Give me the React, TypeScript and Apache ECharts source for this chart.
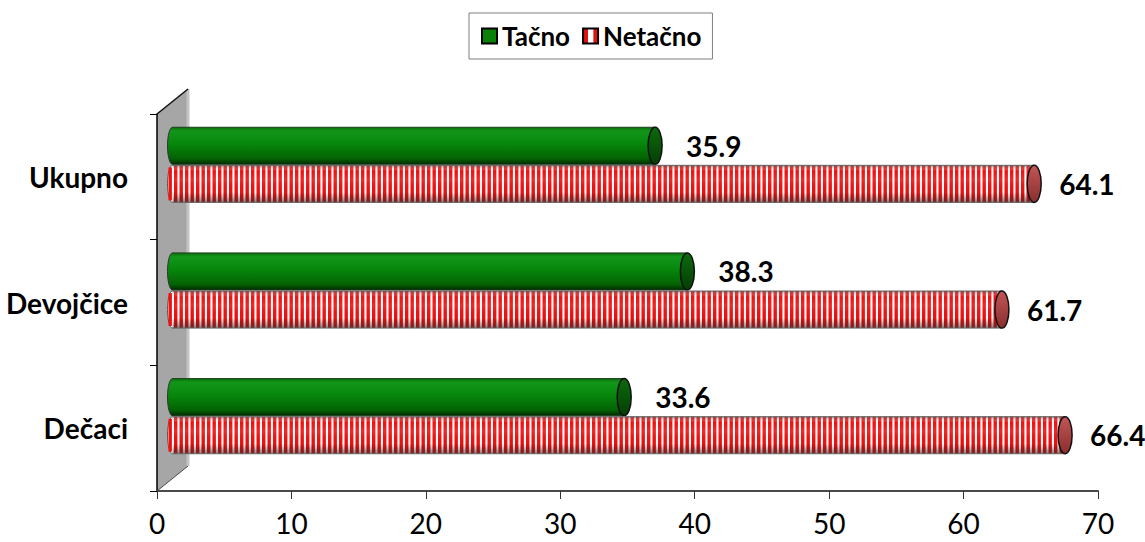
import React, { useEffect, useRef } from "react";
import * as echarts from "echarts";

// Categories run bottom-up on the category axis
const categories = ["Dečaci", "Devojčice", "Ukupno"];
const tacnoValues = [33.6, 38.3, 35.9];
const netacnoValues = [66.4, 61.7, 64.1];
const seriesNames = ["Tačno", "Netačno"];
const xMin = 0;
const xMax = 70;
const xStep = 10;

const W = 1145;
const H = 542;
const GRID = { left: 157, right: 47, top: 114, bottom: 51 };
// depth of the 3-D side wall; bars sit halfway into it
const DEPTH_X = 31;
const DEPTH_Y = 25;
const BAR_DX = 15.5;
const BAR_DY = -12;
const FONT = "Lato, 'Open Sans', sans-serif";

const greenBody = () =>
  new echarts.graphic.LinearGradient(0, 0, 0, 1, [
    { offset: 0, color: "#0c6e0c" },
    { offset: 0.1, color: "#12961a" },
    { offset: 0.45, color: "#06870b" },
    { offset: 0.85, color: "#046204" },
    { offset: 1, color: "#012a01" },
  ]);

const greenCap = () =>
  new echarts.graphic.LinearGradient(0, 0, 0, 1, [
    { offset: 0, color: "#0d6a0d" },
    { offset: 1, color: "#043e04" },
  ]);

const redCap = () =>
  new echarts.graphic.LinearGradient(0, 0, 0, 1, [
    { offset: 0, color: "#c25656" },
    { offset: 1, color: "#8a2e2e" },
  ]);

const shade = () =>
  new echarts.graphic.LinearGradient(0, 0, 0, 1, [
    { offset: 0, color: "rgba(70,70,70,0.55)" },
    { offset: 0.16, color: "rgba(255,255,255,0)" },
    { offset: 0.4, color: "rgba(255,255,255,0.1)" },
    { offset: 0.72, color: "rgba(0,0,0,0)" },
    { offset: 1, color: "rgba(50,50,50,0.6)" },
  ]);

function makeRenderer(seriesIndex: number) {
  return (params: any, api: any) => {
    const cat = api.value(0);
    const val = api.value(1);
    const band = api.size([0, 1])[1];
    const h = band * 0.295;
    const hh = h / 2;
    const start = api.coord([xMin, cat]);
    const end = api.coord([val, cat]);
    const x0 = start[0] + BAR_DX;
    const x1 = end[0] + BAR_DX;
    const cy = start[1] + BAR_DY + (seriesIndex === 0 ? -hh - 0.5 : hh + 0.5);
    const top = cy - hh;
    const rxS = 5;
    const rxE = 7;
    const children: any[] = [];

    if (seriesIndex === 0) {
      children.push({
        type: "ellipse",
        shape: { cx: x0, cy, rx: rxS, ry: hh },
        style: { fill: greenBody(), stroke: "#333", lineWidth: 1 },
      });
      children.push({
        type: "rect",
        shape: { x: x0, y: top, width: x1 - x0, height: h },
        style: { fill: greenBody() },
      });
    } else {
      children.push({
        type: "ellipse",
        shape: { cx: x0, cy, rx: rxS, ry: hh },
        style: { fill: "#ffffff", stroke: "#555", lineWidth: 1 },
      });
      children.push({
        type: "rect",
        shape: { x: x0, y: top, width: x1 - x0, height: h },
        style: { fill: "#ffffff" },
      });
      // red rings along the cylinder
      const period = 5.5;
      const sw = 3.4;
      for (let x = x0 - rxS + 1; x < x1; x += period) {
        const mid = x + sw / 2;
        let half = hh;
        if (mid < x0) {
          const t = (x0 - mid) / rxS;
          half = t >= 1 ? 0 : hh * Math.sqrt(1 - t * t);
        }
        if (half <= 0) continue;
        children.push({
          type: "rect",
          silent: true,
          shape: { x, y: cy - half, width: Math.min(sw, x1 - x), height: half * 2 },
          style: { fill: "#f01010" },
        });
      }
      children.push({
        type: "rect",
        silent: true,
        shape: { x: x0, y: top, width: x1 - x0, height: h },
        style: { fill: shade() },
      });
    }

    // top and bottom outline of the body
    children.push({
      type: "line",
      shape: { x1: x0, y1: top, x2: x1, y2: top },
      style: { stroke: seriesIndex === 0 ? "#1d3d1d" : "#666", lineWidth: 1 },
    });
    children.push({
      type: "line",
      shape: { x1: x0, y1: top + h, x2: x1, y2: top + h },
      style: { stroke: seriesIndex === 0 ? "#1d3d1d" : "#666", lineWidth: 1 },
    });
    // end cap
    children.push({
      type: "ellipse",
      shape: { cx: x1, cy, rx: rxE, ry: hh },
      style: {
        fill: seriesIndex === 0 ? greenCap() : redCap(),
        stroke: "#111",
        lineWidth: 1.5,
      },
    });
    // value label
    children.push({
      type: "text",
      style: {
        x: x1 + rxE + (seriesIndex === 0 ? 24 : 18),
        y: cy,
        text: val.toFixed(1),
        fill: "#000",
        font: `bold 28px ${FONT}`,
        align: "left",
        verticalAlign: "middle",
      },
    });

    return { type: "group", children };
  };
}

export default function App() {
  const ref = useRef<HTMLDivElement>(null);

  useEffect(() => {
    document.body.style.margin = "0";
    if (!ref.current) return;
    const chart = echarts.init(ref.current, undefined, { renderer: "svg" });

    const L = GRID.left;
    const T = GRID.top;
    const B = H - GRID.bottom;

    const wall = [
      {
        type: "polygon",
        z: 0,
        silent: true,
        shape: {
          points: [
            [L, T],
            [L + DEPTH_X, T - DEPTH_Y],
            [L + DEPTH_X, B - DEPTH_Y],
            [L, B],
          ],
        },
        style: { fill: "#a6a6a6" },
      },
      {
        type: "line",
        z: 1,
        silent: true,
        shape: { x1: L + DEPTH_X, y1: T - DEPTH_Y, x2: L + DEPTH_X, y2: B - DEPTH_Y },
        style: { stroke: "#c4c4c4", lineWidth: 3 },
      },
      {
        type: "line",
        z: 1,
        silent: true,
        shape: { x1: L, y1: T, x2: L + DEPTH_X, y2: T - DEPTH_Y },
        style: { stroke: "#111", lineWidth: 1.5 },
      },
      {
        type: "line",
        z: 1,
        silent: true,
        shape: { x1: L, y1: B, x2: L + DEPTH_X, y2: B - DEPTH_Y },
        style: { stroke: "#4a4a4a", lineWidth: 1 },
      },
    ];

    const netacnoIcon = new echarts.graphic.LinearGradient(0, 0, 1, 0, [
      { offset: 0, color: "#e41010" },
      { offset: 0.3, color: "#e41010" },
      { offset: 0.31, color: "#ffffff" },
      { offset: 0.69, color: "#ffffff" },
      { offset: 0.7, color: "#e41010" },
      { offset: 1, color: "#e41010" },
    ]);

    chart.setOption({
      animation: false,
      backgroundColor: "#ffffff",
      legend: {
        left: 469,
        top: 13,
        padding: [10, 11, 10, 12],
        itemWidth: 15,
        itemHeight: 15,
        itemGap: 12,
        borderColor: "#7f7f7f",
        borderWidth: 1,
        textStyle: { fontFamily: FONT, fontWeight: "bold", fontSize: 26, color: "#000" },
        data: [
          {
            name: seriesNames[0],
            icon: "rect",
            itemStyle: { color: "#0a800a", borderColor: "#000", borderWidth: 2 },
          },
          {
            name: seriesNames[1],
            icon: "rect",
            itemStyle: { color: netacnoIcon, borderColor: "#000", borderWidth: 2 },
          },
        ],
      },
      grid: { left: GRID.left, right: GRID.right, top: GRID.top, bottom: GRID.bottom },
      xAxis: {
        type: "value",
        min: xMin,
        max: xMax,
        interval: xStep,
        z: 3,
        splitLine: { show: false },
        axisLine: { show: true, lineStyle: { color: "#4a4a4a", width: 2 } },
        axisTick: { show: true, length: 8, lineStyle: { color: "#333", width: 1 } },
        axisLabel: { fontFamily: FONT, fontSize: 28, color: "#000", margin: 18 },
      },
      yAxis: {
        type: "category",
        data: categories,
        z: 3,
        axisLine: { show: true, lineStyle: { color: "#000", width: 1.5 } },
        axisTick: { show: true, length: 7, lineStyle: { color: "#000", width: 1 } },
        axisLabel: {
          fontFamily: FONT,
          fontWeight: "bold",
          fontSize: 28,
          color: "#000",
          margin: 29,
        },
        splitLine: { show: false },
      },
      graphic: wall,
      series: [
        {
          name: seriesNames[0],
          type: "custom",
          z: 5,
          itemStyle: { color: "#0a800a" },
          encode: { y: 0, x: 1 },
          data: tacnoValues.map((v, i) => [i, v]),
          renderItem: makeRenderer(0),
        },
        {
          name: seriesNames[1],
          type: "custom",
          z: 5,
          itemStyle: { color: "#e41010" },
          encode: { y: 0, x: 1 },
          data: netacnoValues.map((v, i) => [i, v]),
          renderItem: makeRenderer(1),
        },
      ],
    });

    return () => chart.dispose();
  }, []);

  return <div ref={ref} style={{ width: W, height: H }} />;
}
